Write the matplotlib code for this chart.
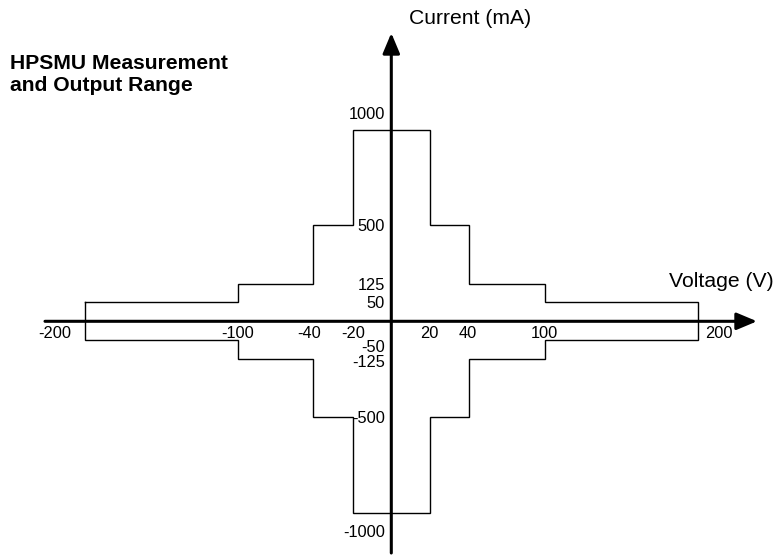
import numpy as np
import matplotlib
matplotlib.use('Agg')
import matplotlib.pyplot as plt

plt.rcParams['font.family'] = ['Liberation Sans', 'DejaVu Sans']

# range limits of the HPSMU (half widths of the cross)
volt_lim = [200, 100, 40, 20]        # V
curr_lim = [50, 125, 500, 1000]      # mA

volt_ticks = [-200, -100, -40, -20, 20, 40, 100, 200]
curr_ticks = [1000, 500, 125, 50, -50, -125, -500, -1000]

title = 'HPSMU Measurement\nand Output Range'
xlabel = 'Voltage (V)'
ylabel = 'Current (mA)'

W, H = 778, 555
dpi = 100

# schematic (non linear) axes: value -> pixel offset from origin
x_knots = [-400, -200, -100, -40, -20, 0, 20, 40, 100, 200, 400]
x_px = [-613, -306.7, -153.7, -78, -38.6, 0, 38.6, 78, 153.7, 306.7, 613]
y_knots = [-2000, -1000, -500, -125, -50, 0, 50, 125, 500, 1000, 2000]
y_px = [-383, -191.7, -96, -37.6, -19.1, 0, 19.1, 37.6, 96, 191.7, 383]
x0, y0 = 391.3, 555 - 321.3   # origin in figure pixels (from bottom left)


def funcs(knots, px):
    fwd = lambda v: np.interp(v, knots, px)
    inv = lambda p: np.interp(p, px, knots)
    return fwd, inv


fig = plt.figure(figsize=(W / dpi, H / dpi), dpi=dpi)
ax = fig.add_axes([0, 0, 1, 1])
fx, ix = funcs(x_knots, x_px)
fy, iy = funcs(y_knots, y_px)
ax.set_xscale('function', functions=(fx, ix))
ax.set_yscale('function', functions=(fy, iy))
ax.set_xlim(ix(-x0), ix(W - x0))
ax.set_ylim(iy(-y0), iy(H - y0))
ax.axis('off')

# outline of the range: walk the upper half left to right, then mirror
top_x, top_y = [], []
for k in range(len(volt_lim)):
    top_x += [-volt_lim[k], -volt_lim[k]]
    top_y += [curr_lim[k - 1] if k else 0, curr_lim[k]]
top_x = top_x[1:]
top_y = top_y[1:]
up_x = top_x + [-v for v in top_x[::-1]]
up_y = top_y + top_y[::-1]
px = up_x + up_x[::-1] + [up_x[0]]
py = up_y + [-c for c in up_y[::-1]] + [up_y[0]]
ax.plot(px, py, color='black', lw=1.0, solid_joinstyle='miter')

# axes with arrow heads
arrow = dict(arrowstyle='-|>,head_length=0.62,head_width=0.26', lw=2.2,
             color='black', shrinkA=0, shrinkB=0, mutation_scale=20)
ax.annotate('', xy=(757, 0), xytext=(45, 0),
            xycoords=('figure pixels', 'data'),
            textcoords=('figure pixels', 'data'), arrowprops=arrow)
ax.annotate('', xy=(0, 522), xytext=(0, 2),
            xycoords=('data', 'figure pixels'),
            textcoords=('data', 'figure pixels'), arrowprops=arrow)

# tick labels
vdx = [-29.5, 0, -4.5, 0, -1, -2, -1, 21]
for v, dx in zip(volt_ticks, vdx):
    ax.annotate(str(v), xy=(v, 0), xytext=(dx, -16.3),
                textcoords='offset pixels', ha='center', va='baseline',
                fontsize=11.8)
cdy = [10.4, -5.9, -6, -6, -11.6, -8.3, -6, -24.3]
for c, dy in zip(curr_ticks, cdy):
    ax.annotate(str(c), xy=(0, c), xytext=(-6.5, dy),
                textcoords='offset pixels', ha='right', va='baseline',
                fontsize=11.8)

# labels and title
fig.text(409 / W, 1 - 24 / H, ylabel, fontsize=15.2, va='baseline')
fig.text(669 / W, 1 - 286.7 / H, xlabel, fontsize=15.2, va='baseline')
fig.text(10 / W, 1 - 54 / H, title, fontsize=15.2, fontweight='bold',
         va='top', linespacing=1.2)

fig.savefig('out.png', dpi=dpi)
